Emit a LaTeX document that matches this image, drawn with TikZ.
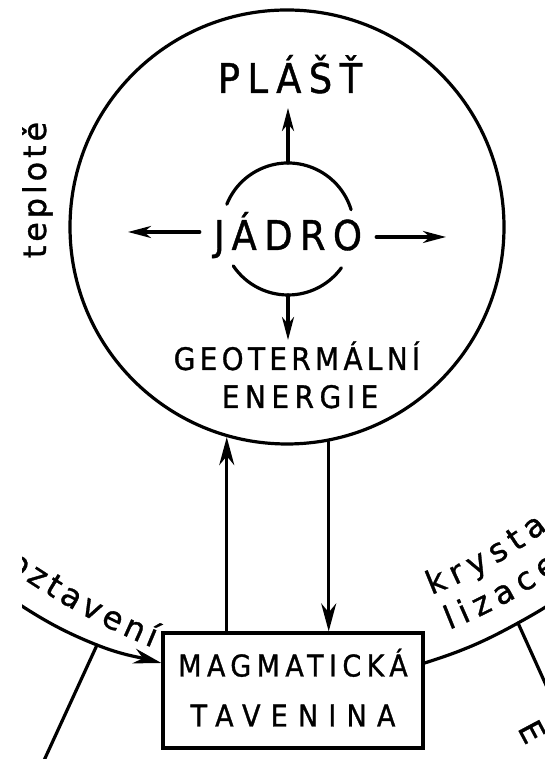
\documentclass[tikz,border=0pt]{standalone}
\usepackage{fontspec}
\setmainfont{DejaVu Sans}
\newfontfamily\letterfont[LetterSpace=18,FakeStretch=0.9,FakeBold=1]{DejaVu Sans}
\newfontfamily\handfont[LetterSpace=12,FakeBold=1]{DejaVu Sans}
\newfontfamily\curvefont[FakeBold=1]{DejaVu Sans}
\usetikzlibrary{arrows.meta,calc}

\tikzset{
  ink/.style={line width=3.2pt, line cap=round},
  arr/.style={ink, -{Stealth[length=23pt,width=12pt,inset=7pt]}},
  bigarr/.style={ink, -{Stealth[length=28pt,width=15pt,inset=9pt]}},
  bigcaps/.style={font=\letterfont\fontsize{41}{41}\selectfont, inner sep=0pt},
  midcaps/.style={font=\letterfont\fontsize{31}{50}\selectfont, inner sep=0pt},
  lowlabel/.style={font=\handfont\fontsize{32}{32}\selectfont, inner sep=0pt},
  curveletter/.style={font=\curvefont\fontsize{32}{32}\selectfont, inner sep=0pt},
}

% one word set letter by letter along a circular arc
% #1 name prefix, #2 centre, #3 radius (pt), #4 start angle, #5 gap (pt), #6 letters
\newcommand\bentword[6]{%
  \begingroup
  \curvefont\fontsize{32}{32}\selectfont
  \xdef\bwAngle{#4}%
  \foreach \ch [count=\k] in {#6} {%
    \pgfmathwidth{"\ch"}\let\bwW\pgfmathresult
    \pgfmathsetmacro\bwMid{\bwAngle + deg(\bwW/2/#3)}%
    \pgfmathsetmacro\bwTurn{\bwMid + 90}%
    \node[curveletter, anchor=base, rotate=\bwTurn] (#1\k) at ($(#2)+(\bwMid:#3pt)$) {\ch};
    \pgfmathsetmacro\bwNext{\bwAngle + deg((\bwW + #5)/#3)}%
    \global\let\bwAngle\bwNext
  }%
  \endgroup
}

\begin{document}
\begin{tikzpicture}[x=1pt,y=1pt]
\useasboundingbox (0,0) rectangle (545,759);
\clip (22,0) rectangle (545,759);

% the Earth with its core
\node[circle, draw, ink, minimum size=434pt, inner sep=0pt] (earth) at (287,532) {};
\coordinate (core) at (288,530);
\draw[ink] ($(core)+(158:66pt)$) arc[start angle=158, end angle=17, radius=66pt];
\draw[ink] ($(core)+(214:66pt)$) arc[start angle=214, end angle=324, radius=66pt];
\coordinate (coreN) at ($(core)+(90:66pt)$);
\coordinate (coreS) at ($(core)+(270:66pt)$);

\node[bigcaps, anchor=base] (plast) at (290,666) {PLÁŠŤ};
\node[bigcaps, anchor=base, inner xsep=14pt] (jadro) at (288,509) {JÁDRO};
\node[midcaps, anchor=base, font=\letterfont\addfontfeature{LetterSpace=14}\fontsize{31}{50}\selectfont]
  (geo1) at (297,389) {GEOTERMÁLNÍ};
\node[midcaps, anchor=base] (geo2) at (300,351) {ENERGIE};

% heat flow out of the core
\coordinate (plastTip) at (288,651);
\coordinate (geoTip) at (288,419);
\coordinate (coreW) at (128,527);
\coordinate (coreE) at (446,522);
\draw[arr] (coreN) -- (plastTip);
\draw[arr] (coreS) -- (geoTip);
\draw[arr] (jadro.west |- coreW) -- (coreW);
\draw[arr] (jadro.east |- coreE) -- (coreE);

% the melt
\node[draw, ink, minimum width=260pt, minimum height=115pt, align=center,
      midcaps, font=\letterfont\fontsize{30}{50}\selectfont]
  (box) at (293,68.5)
  {\raisebox{0pt}[22pt][0pt]{MAGMATICKÁ}\\{\addfontfeature{LetterSpace=34}TAVENINA}};

\draw[bigarr] (earth.254 |- box.north) -- (earth.254);
\draw[bigarr] (earth.281.4) -- (earth.281.4 |- box.north);

% rock cycle: melting on the left, crystallisation on the right
\coordinate (meltStart) at (-4,170);
\coordinate (meltFork) at (97,114);
\coordinate (meltLow) at (41,-8);
\draw[bigarr] (meltStart) to[out=-33.6, in=158.3] (meltFork)
  to[out=-21.7, in=165.7] ([yshift=27.5pt]box.west);
\draw[ink] (meltFork) -- (meltLow);

\coordinate (crystFork) at (518,136);
\coordinate (crystEnd) at (552,156);
\coordinate (crystLow) at (555,54);
\draw[ink] ([yshift=27.5pt]box.east) to[out=17.6, in=208.9] (crystFork)
  to[out=28.9, in=212.4] (crystEnd);
\draw[ink] (crystFork) -- (crystLow);

% labels along the cycle
\coordinate (meltC) at (428,784);
\coordinate (crystC) at (269,587);
\bentword{melt}{meltC}{727}{233.1}{4.5}{r,o,z,t,a,v,e,n,í}
\bentword{crystA}{crystC}{453}{-69}{7}{k,r,y,s,t,a,-}
\bentword{crystB}{crystC}{492}{-68.5}{7}{l,i,z,a,c,e}

\node[lowlabel, rotate=90, anchor=base] (heat) at (46,569) {teplotě};
\node[lowlabel, rotate=-62, anchor=base west] (ecut) at (517,31) {E};
\end{tikzpicture}
\end{document}
